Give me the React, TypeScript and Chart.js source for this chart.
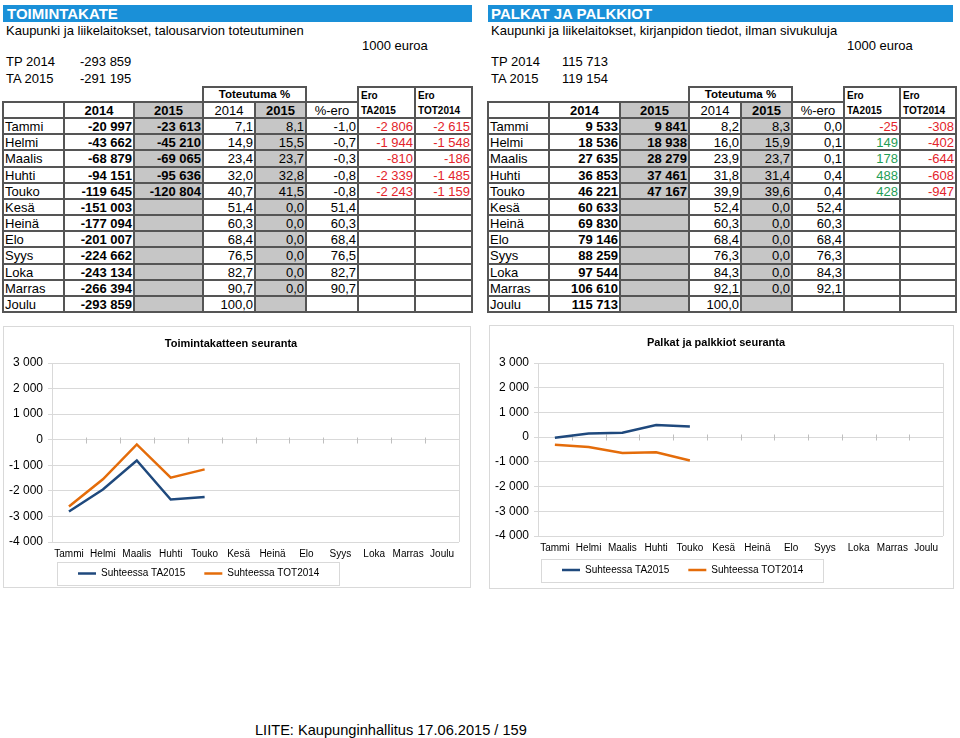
import React, { useEffect, useRef } from 'react';
import { Chart, registerables } from 'chart.js';
Chart.register(...registerables);

// ---------- DATA ----------
const months = ['Tammi', 'Helmi', 'Maalis', 'Huhti', 'Touko', 'Kesä', 'Heinä', 'Elo', 'Syys', 'Loka', 'Marras', 'Joulu'];

// Toimintakate
const tkTP2014 = -293859;
const tkTA2015 = -291195;
const tk2014 = [-20997, -43662, -68879, -94151, -119645, -151003, -177094, -201007, -224662, -243134, -266394, -293859];
const tk2015 = [-23613, -45210, -69065, -95636, -120804];
const tkPct2014 = [7.1, 14.9, 23.4, 32.0, 40.7, 51.4, 60.3, 68.4, 76.5, 82.7, 90.7, 100.0];
const tkPct2015 = [8.1, 15.5, 23.7, 32.8, 41.5, 0, 0, 0, 0, 0, 0];
const tkPctEro = [-1.0, -0.7, -0.3, -0.8, -0.8, 51.4, 60.3, 68.4, 76.5, 82.7, 90.7];
const tkEroTA2015 = [-2806, -1944, -810, -2339, -2243];
const tkEroTOT2014 = [-2615, -1548, -186, -1485, -1159];

// Palkat ja palkkiot
const pkTP2014 = 115713;
const pkTA2015 = 119154;
const pk2014 = [9533, 18536, 27635, 36853, 46221, 60633, 69830, 79146, 88259, 97544, 106610, 115713];
const pk2015 = [9841, 18938, 28279, 37461, 47167];
const pkPct2014 = [8.2, 16.0, 23.9, 31.8, 39.9, 52.4, 60.3, 68.4, 76.3, 84.3, 92.1, 100.0];
const pkPct2015 = [8.3, 15.9, 23.7, 31.4, 39.6, 0, 0, 0, 0, 0, 0];
const pkPctEro = [0.0, 0.1, 0.1, 0.4, 0.4, 52.4, 60.3, 68.4, 76.3, 84.3, 92.1];
const pkEroTA2015 = [-25, 149, 178, 488, 428];
const pkEroTOT2014 = [-308, -402, -644, -608, -947];

const yTicks = [3000, 2000, 1000, 0, -1000, -2000, -3000, -4000];
const seriesNames = ['Suhteessa TA2015', 'Suhteessa TOT2014'];

// ---------- STYLE ----------
const FONT = "'Liberation Sans', Arial, Helvetica, sans-serif";
const BLUE_BANNER = '#1a90d8';
const GRAY = '#c6c6c6';
const BW = 2;
const BORDER = BW + 'px solid #555';
const RED = '#e3242b';
const GREEN = '#1f9d55';
const LINE_BLUE = '#1f497d';
const LINE_ORANGE = '#e46c0a';
const GRID = '#d9d9d9';

Chart.defaults.font.family = FONT;

const fmtInt = (v: number) => {
  const s = Math.abs(Math.round(v)).toString().replace(/\B(?=(\d{3})+(?!\d))/g, ' ');
  return (v < 0 ? '-' : '') + s;
};
const fmtPct = (v: number) => v.toFixed(1).replace('.', ',');

// ---------- TABLE ----------
function Cell(props: any) {
  const { x0, x1, y0, y1, align = 'right', bold = false, bg, color = '#000', size = 13, children } = props;
  return (
    <div
      style={{
        position: 'absolute', left: x0 - 1, top: y0 - 1, width: x1 - x0 + 2, height: y1 - y0 + 2,
        boxSizing: 'border-box', border: BORDER, background: bg,
        display: 'flex', alignItems: 'center',
        justifyContent: align === 'right' ? 'flex-end' : align === 'center' ? 'center' : 'flex-start',
        padding: '0 1px', fontSize: size, fontWeight: bold ? 'bold' : 'normal', color,
        whiteSpace: 'nowrap', overflow: 'hidden', lineHeight: 1,
      }}
    >{children}</div>
  );
}

function EroHead({ x0, x1, y0, y1, sub }: any) {
  return (
    <div style={{
      position: 'absolute', left: x0 - 1, top: y0 - 1, width: x1 - x0 + 2, height: y1 - y0 + 2,
      boxSizing: 'border-box', border: BORDER, fontSize: 10, fontWeight: 'bold',
      padding: '3px 2px 1px 2px', display: 'flex', flexDirection: 'column', justifyContent: 'space-between', lineHeight: 1,
    }}>
      <span>Ero</span><span>{sub}</span>
    </div>
  );
}

function DataTable({ cx, v2014, v2015, p2014, p2015, pEro, eroTA, eroTOT }: any) {
  const H1 = 87, H2 = 102, D0 = 118, RH = (312 - 118) / 12;
  const ry = (i: number) => Math.round(D0 + i * RH);
  const cells: any[] = [];
  cells.push(<Cell key="tot" x0={cx[3]} x1={cx[5]} y0={H1} y1={H2} align="center" bold size={11.5}>Toteutuma %</Cell>);
  cells.push(<EroHead key="e1" x0={cx[6]} x1={cx[7]} y0={H1} y1={D0} sub="TA2015" />);
  cells.push(<EroHead key="e2" x0={cx[7]} x1={cx[8]} y0={H1} y1={D0} sub="TOT2014" />);
  const h2: [string, boolean, boolean][] = [['', false, false], ['2014', true, false], ['2015', true, true], ['2014', false, false], ['2015', true, true], ['%-ero', false, false]];
  h2.forEach(([t, b, g], i) => cells.push(
    <Cell key={'h2' + i} x0={cx[i]} x1={cx[i + 1]} y0={H2} y1={D0} align="center" bold={b} bg={g ? GRAY : undefined}>{t}</Cell>
  ));
  months.forEach((m, r) => {
    const y0 = ry(r), y1 = ry(r + 1);
    const row: any[] = [
      { t: m, a: 'left' },
      { t: fmtInt(v2014[r]), b: true },
      { t: v2015[r] != null ? fmtInt(v2015[r]) : '', b: true, g: true },
      { t: fmtPct(p2014[r]) },
      { t: p2015[r] != null ? fmtPct(p2015[r]) : '', g: true },
      { t: pEro[r] != null ? fmtPct(pEro[r]) : '' },
      { t: eroTA[r] != null ? fmtInt(eroTA[r]) : '', c: eroTA[r] < 0 ? RED : GREEN },
      { t: eroTOT[r] != null ? fmtInt(eroTOT[r]) : '', c: eroTOT[r] < 0 ? RED : GREEN },
    ];
    row.forEach((c, i) => cells.push(
      <Cell key={r + '-' + i} x0={cx[i]} x1={cx[i + 1]} y0={y0} y1={y1} align={c.a || 'right'} bold={!!c.b} bg={c.g ? GRAY : undefined} color={c.c || '#000'}>{c.t}</Cell>
    ));
  });
  return <>{cells}</>;
}

function Txt({ x, y, size = 13, bold = false, color = '#000', children }: any) {
  return (
    <div style={{ position: 'absolute', left: x, top: y - 10, height: 20, lineHeight: '20px', fontSize: size, fontWeight: bold ? 'bold' : 'normal', color, whiteSpace: 'nowrap' }}>{children}</div>
  );
}

// ---------- CHART ----------
const legendPlace = {
  id: 'legendPlace',
  afterLayout(chart: any, _a: any, opts: any) {
    const lg = chart.legend;
    if (!lg) return;
    const pad = lg.options.labels.padding;
    const w = lg.width;
    const h = pad * 2 + 12;
    lg.left = opts.itemX - pad; lg.right = lg.left + w;
    lg.top = opts.centerY - pad - 5; lg.bottom = lg.top + h;
    lg.height = h;
  },
};

const decor = {
  id: 'decor',
  beforeDraw(chart: any) {
    const { ctx, width, height } = chart;
    ctx.save();
    ctx.fillStyle = '#fff';
    ctx.fillRect(0, 0, width, height);
    ctx.strokeStyle = GRID;
    ctx.lineWidth = 1;
    ctx.strokeRect(0.5, 0.5, width - 1, height - 1);
    ctx.restore();
  },
  beforeDatasetsDraw(chart: any) {
    const { ctx, chartArea: ca, scales } = chart;
    const x = scales.x, y = scales.y;
    ctx.save();
    ctx.strokeStyle = GRID;
    ctx.lineWidth = 1;
    const rx = Math.round(ca.right) + 0.5;
    ctx.beginPath(); ctx.moveTo(rx, ca.top); ctx.lineTo(rx, ca.bottom); ctx.stroke();
    const y0 = Math.round(y.getPixelForValue(0)) + 0.5;
    ctx.strokeStyle = '#bfbfbf';
    for (let i = 1; i < months.length; i++) {
      const bx = Math.round((x.getPixelForValue(i - 1) + x.getPixelForValue(i)) / 2) + 0.5;
      ctx.beginPath(); ctx.moveTo(bx, y0 - 3); ctx.lineTo(bx, y0 + 3); ctx.stroke();
    }
    ctx.restore();
  },
  afterDraw(chart: any, _a: any, opts: any) {
    const lg = chart.legend;
    if (!lg || !lg.legendHitBoxes || !lg.legendHitBoxes.length) return;
    const hb = lg.legendHitBoxes;
    const first = hb[0], last = hb[hb.length - 1];
    const cy = first.top + first.height / 2;
    const l = Math.round(first.left - opts.padL) + 0.5;
    const r = Math.round(last.left + last.width + opts.padR) + 0.5;
    const t = Math.round(cy - opts.boxH / 2) + 0.5;
    const { ctx } = chart;
    ctx.save();
    ctx.strokeStyle = GRID;
    ctx.lineWidth = 1;
    ctx.strokeRect(l, t, r - l, opts.boxH);
    ctx.restore();
  },
};

function LineChart({ g, title, ta, tot }: any) {
  const ref = useRef<HTMLCanvasElement>(null);
  useEffect(() => {
    const chart = new Chart(ref.current as HTMLCanvasElement, {
      type: 'line',
      data: {
        labels: months,
        datasets: [
          { label: seriesNames[0], data: ta, borderColor: LINE_BLUE, backgroundColor: LINE_BLUE, borderWidth: 2.5, pointRadius: 0, tension: 0, fill: false },
          { label: seriesNames[1], data: tot, borderColor: LINE_ORANGE, backgroundColor: LINE_ORANGE, borderWidth: 2.5, pointRadius: 0, tension: 0, fill: false },
        ],
      },
      options: {
        animation: false,
        responsive: false,
        maintainAspectRatio: false,
        events: [],
        layout: { padding: { left: 0, right: g.padR, top: 0, bottom: 0 } },
        plugins: {
          title: { display: true, text: title, color: '#000', font: { family: FONT, size: 11, weight: 'bold' }, padding: { top: g.titleTop, bottom: g.titleBottom } },
          legend: {
            position: 'bottom', align: 'start', maxHeight: 20,
            labels: { usePointStyle: true, pointStyle: 'line', pointStyleWidth: 18, padding: 19, color: '#000', font: { family: FONT, size: 10 } },
          },
          tooltip: { enabled: false },
          legendPlace: { itemX: g.legendX, centerY: g.legendY },
          decor: { padL: 21, padR: 20, boxH: 23 },
        } as any,
        scales: {
          x: {
            offset: true,
            grid: { display: false, drawTicks: false, tickLength: 0, offset: true },
            border: { display: false },
            ticks: { color: '#000', font: { family: FONT, size: 10 }, maxRotation: 0, minRotation: 0, autoSkip: false, padding: 6 },
            afterFit: (s: any) => { s.height = g.xH; },
          },
          y: {
            min: yTicks[yTicks.length - 1], max: yTicks[0],
            afterBuildTicks: (s: any) => { s.ticks = yTicks.map((v) => ({ value: v })); },
            ticks: { color: '#000', font: { family: FONT, size: 12 }, padding: 5, callback: (v: any) => fmtInt(Number(v)) },
            grid: { color: GRID, tickLength: 4, drawTicks: true },
            border: { color: GRID },
            afterFit: (s: any) => { s.width = 49; },
          },
        },
      },
      plugins: [legendPlace, decor],
    } as any);
    return () => chart.destroy();
  }, []);
  return <canvas ref={ref} width={g.w} height={g.h} style={{ position: 'absolute', left: g.left, top: g.top, width: g.w, height: g.h }} />;
}

// ---------- APP ----------
const leftCols = [3, 64, 134, 203, 255, 306, 358, 415, 472];
const rightCols = [488, 549, 620, 689, 741, 792, 844, 900, 956];

const leftChartGeom = { left: 3, top: 326, w: 468, h: 262, padR: 12, titleTop: 11, titleBottom: 12.8, xH: 26, legendX: 75, legendY: 247.5 };
const rightChartGeom = { left: 489, top: 325, w: 465, h: 264, padR: 11, titleTop: 11.4, titleBottom: 13.4, xH: 33, legendX: 73, legendY: 245 };

export default function App() {
  return (
    <div style={{ position: 'absolute', left: 0, top: 0, width: 960, height: 738, background: '#fff', fontFamily: FONT, color: '#000', overflow: 'hidden' }}>
      {/* Left block */}
      <div style={{ position: 'absolute', left: 3, top: 5, width: 469, height: 17, background: BLUE_BANNER, color: '#fff', fontWeight: 'bold', fontSize: 15, lineHeight: '17px', paddingLeft: 4, boxSizing: 'border-box' }}>TOIMINTAKATE</div>
      <Txt x={6} y={31}>Kaupunki ja liikelaitokset, talousarvion toteutuminen</Txt>
      <Txt x={362} y={46}>1000 euroa</Txt>
      <Txt x={6} y={62}>TP 2014</Txt>
      <Txt x={80} y={62}>{fmtInt(tkTP2014)}</Txt>
      <Txt x={6} y={79}>TA 2015</Txt>
      <Txt x={80} y={79}>{fmtInt(tkTA2015)}</Txt>
      <DataTable cx={leftCols} v2014={tk2014} v2015={tk2015} p2014={tkPct2014} p2015={tkPct2015} pEro={tkPctEro} eroTA={tkEroTA2015} eroTOT={tkEroTOT2014} />

      {/* Right block */}
      <div style={{ position: 'absolute', left: 488, top: 5, width: 465, height: 17, background: BLUE_BANNER, color: '#fff', fontWeight: 'bold', fontSize: 15, lineHeight: '17px', paddingLeft: 3, boxSizing: 'border-box' }}>PALKAT JA PALKKIOT</div>
      <Txt x={491} y={31}>Kaupunki ja liikelaitokset, kirjanpidon tiedot, ilman sivukuluja</Txt>
      <Txt x={847} y={46}>1000 euroa</Txt>
      <Txt x={491} y={62}>TP 2014</Txt>
      <Txt x={562} y={62}>{fmtInt(pkTP2014)}</Txt>
      <Txt x={491} y={79}>TA 2015</Txt>
      <Txt x={562} y={79}>{fmtInt(pkTA2015)}</Txt>
      <DataTable cx={rightCols} v2014={pk2014} v2015={pk2015} p2014={pkPct2014} p2015={pkPct2015} pEro={pkPctEro} eroTA={pkEroTA2015} eroTOT={pkEroTOT2014} />

      {/* Charts */}
      <LineChart g={leftChartGeom} title="Toimintakatteen seuranta" ta={tkEroTA2015} tot={tkEroTOT2014} />
      <LineChart g={rightChartGeom} title="Palkat ja palkkiot seuranta" ta={pkEroTA2015} tot={pkEroTOT2014} />

      <Txt x={255} y={730} size={14.6}>LIITE: Kaupunginhallitus 17.06.2015 / 159</Txt>
    </div>
  );
}
